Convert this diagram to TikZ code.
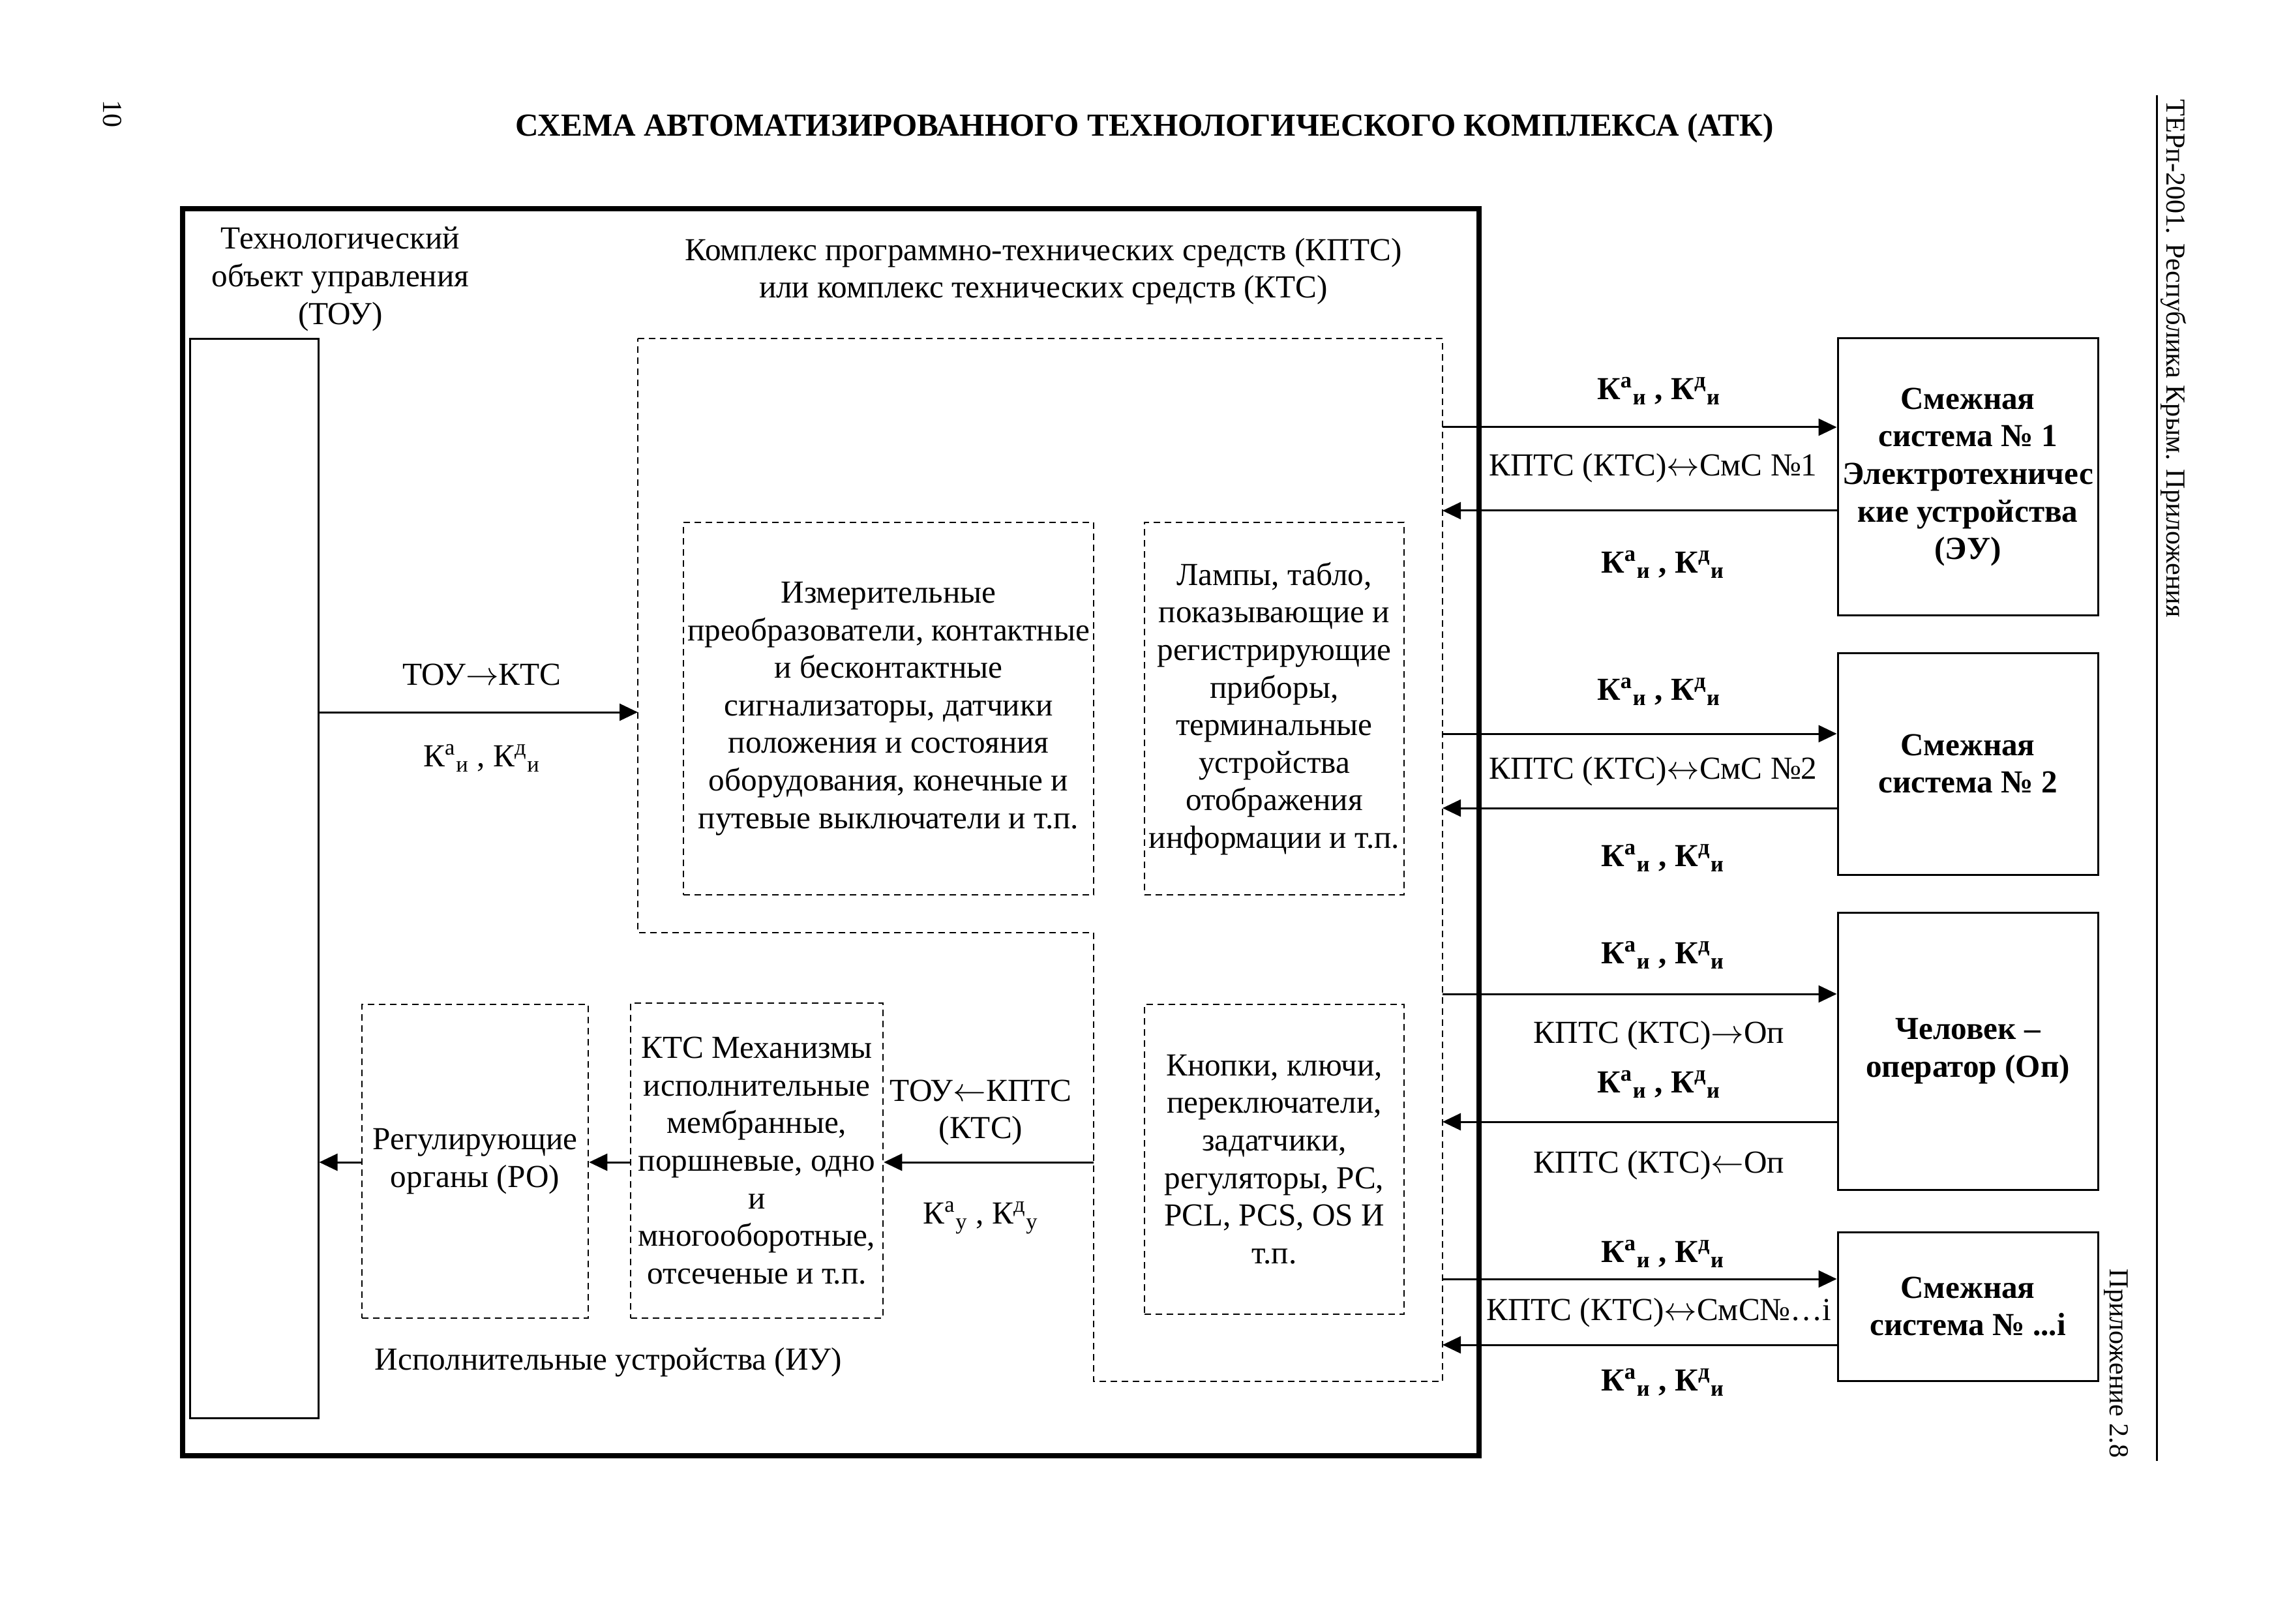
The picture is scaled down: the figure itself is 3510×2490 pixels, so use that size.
\documentclass[tikz,border=0pt]{standalone}
\usepackage{fontspec}
\setmainfont{Liberation Serif}
\usetikzlibrary{arrows.meta}
\newcommand{\kkx}[2]{К\textsuperscript{#1}\textsubscript{#2}}
\newcommand{\rar}{\ensuremath{\rightarrow}}
\newcommand{\lar}{\ensuremath{\leftarrow}}
\newcommand{\lrar}{\ensuremath{\leftrightarrow}}
\tikzset{
  txt/.style={font=\fontsize{14}{16.4}\selectfont, inner sep=0pt, align=center},
  stxt/.style={font=\fontsize{12}{14}\selectfont, inner sep=0pt, align=center},
  btxt/.style={font=\bfseries\fontsize{14}{16.4}\selectfont, inner sep=0pt, align=center},
  solidbox/.style={draw, line width=0.3mm, inner sep=0pt},
  dbox/.style={draw, line width=0.25mm, dash pattern=on 1mm off 0.7mm, inner sep=0pt},
  arr/.style={line width=0.3mm, -{Triangle[length=2.8mm,width=2.6mm]}},
}
\begin{document}
\begin{tikzpicture}[x=0.1mm,y=-0.1mm]
\useasboundingbox (0,0) rectangle (3510,2490);
% title and margins
\node[btxt] (title) at (1755,197) {СХЕМА АВТОМАТИЗИРОВАННОГО ТЕХНОЛОГИЧЕСКОГО КОМПЛЕКСА (АТК)};
\node[stxt, rotate=-90] (pgno) at (172,175) {10};
\draw[line width=0.3mm] (3307,146) -- (3307,2240);
\node[stxt, rotate=-90, anchor=west] (hdr) at (3333,152) {ТЕРп-2001. Республика Крым. Приложения};
\node[stxt, rotate=-90, anchor=east] (app) at (3245,2236) {Приложение 2.8};
% outer thick frame
\draw[line width=0.8mm] (280,320) rectangle (2268,2232);
% TOU
\node[solidbox, minimum width=19.7mm, minimum height=165.5mm] (tou) at (389.5,1346.5) {};
\node[txt] (toulab) at (522,428) {Технологический\\объект управления\\(ТОУ)};
% KPTS region
\node[txt] (kptslab) at (1600,416) {Комплекс программно-технических средств (КПТС)\\или комплекс технических средств (КТС)};
\coordinate (k1) at (978,519);
\coordinate (k2) at (2212,519);
\coordinate (k3) at (2212,2118);
\coordinate (k4) at (1677,2118);
\coordinate (k5) at (1677,1430);
\coordinate (k6) at (978,1430);
\draw[dbox] (k1) -- (k2) -- (k3) -- (k4) -- (k5) -- (k6) -- cycle;
% inner boxes
\node[dbox, txt, minimum width=62.9mm, minimum height=57.1mm] (meas) at (1362.5,1086.5)
 {Измерительные\\преобразователи, контактные\\и бесконтактные\\сигнализаторы, датчики\\положения и состояния\\оборудования, конечные и\\путевые выключатели и т.п.};
\node[dbox, txt, minimum width=39.8mm, minimum height=57.1mm] (lamps) at (1954,1086.5)
 {Лампы, табло,\\показывающие и\\регистрирующие\\приборы,\\терминальные\\устройства\\отображения\\информации и т.п.};
\node[dbox, txt, minimum width=39.8mm, minimum height=47.5mm] (btns) at (1954,1777.5)
 {Кнопки, ключи,\\переключатели,\\задатчики,\\регуляторы, PC,\\PCL, PCS, OS И\\т.п.};
\node[dbox, txt, minimum width=38.7mm, minimum height=48.3mm] (kts) at (1160.5,1779.5)
 {КТС Механизмы\\исполнительные\\мембранные,\\поршневые, одно\\и\\многооборотные,\\отсеченые и т.п.};
\node[dbox, txt, minimum width=34.7mm, minimum height=48.1mm] (ro) at (728.5,1780.5)
 {Регулирующие\\органы (РО)};
\node[txt] (iulab) at (933,2089) {Исполнительные устройства (ИУ)};
% internal arrows
\coordinate (ya) at (0,1092);
\coordinate (yb) at (0,1782);
\draw[arr] (tou.east |- ya) -- (k1 |- ya);
\node[txt] (la1) at (739,1034) {ТОУ\rar КТС};
\node[txt] (la2) at (739,1162) {\kkx{а}{и} , \kkx{д}{и}};
\draw[arr] (k5 |- yb) -- (kts.east |- yb);
\node[txt] (lb1) at (1504,1706) {ТОУ\lar КПТС\\(КТС)};
\node[txt] (lb2) at (1504,1867) {\kkx{а}{у} , \kkx{д}{у}};
\draw[arr] (kts.west |- yb) -- (ro.east |- yb);
\draw[arr] (ro.west |- yb) -- (tou.east |- yb);
% right side systems
\node[solidbox, btxt, minimum width=39.9mm, minimum height=42.5mm] (s1) at (3017.5,731.5)
 {Смежная\\система № 1\\Электротехничес\\кие устройства\\(ЭУ)};
\node[solidbox, btxt, minimum width=39.9mm, minimum height=34mm] (s2) at (3017.5,1171)
 {Смежная\\система № 2};
\node[solidbox, btxt, minimum width=39.9mm, minimum height=42.5mm] (s3) at (3017.5,1611.5)
 {Человек –\\оператор (Оп)};
\node[solidbox, btxt, minimum width=39.9mm, minimum height=22.8mm] (s4) at (3017.5,2003)
 {Смежная\\система № ...i};
% system 1
\coordinate (r1a) at (0,655); \coordinate (r1b) at (0,783);
\draw[arr] (k2 |- r1a) -- (s1.west |- r1a);
\draw[arr] (s1.west |- r1b) -- (k2 |- r1b);
\node[btxt] (l11) at (2544,599) {\kkx{а}{и} , \kkx{д}{и}};
\node[txt] (l12) at (2535,718) {КПТС (КТС)\lrar СмС №1};
\node[btxt] (l13) at (2550,865) {\kkx{а}{и} , \kkx{д}{и}};
% system 2
\coordinate (r2a) at (0,1125); \coordinate (r2b) at (0,1239);
\draw[arr] (k2 |- r2a) -- (s2.west |- r2a);
\draw[arr] (s2.west |- r2b) -- (k2 |- r2b);
\node[btxt] (l21) at (2544,1060) {\kkx{а}{и} , \kkx{д}{и}};
\node[txt] (l22) at (2535,1183) {КПТС (КТС)\lrar СмС №2};
\node[btxt] (l23) at (2550,1315) {\kkx{а}{и} , \kkx{д}{и}};
% system 3
\coordinate (r3a) at (0,1524); \coordinate (r3b) at (0,1720);
\draw[arr] (k2 |- r3a) -- (s3.west |- r3a);
\draw[arr] (s3.west |- r3b) -- (k2 |- r3b);
\node[btxt] (l31) at (2550,1464) {\kkx{а}{и} , \kkx{д}{и}};
\node[txt] (l32) at (2544,1588) {КПТС (КТС)\rar Оп};
\node[btxt] (l33) at (2544,1662) {\kkx{а}{и} , \kkx{д}{и}};
\node[txt] (l34) at (2544,1787) {КПТС (КТС)\lar Оп};
% system 4
\coordinate (r4a) at (0,1961); \coordinate (r4b) at (0,2062);
\draw[arr] (k2 |- r4a) -- (s4.west |- r4a);
\draw[arr] (s4.west |- r4b) -- (k2 |- r4b);
\node[btxt] (l41) at (2550,1922) {\kkx{а}{и} , \kkx{д}{и}};
\node[txt] (l42) at (2544,2013) {КПТС (КТС)\lrar СмС№…i};
\node[btxt] (l43) at (2550,2119) {\kkx{а}{и} , \kkx{д}{и}};
\end{tikzpicture}
\end{document}
